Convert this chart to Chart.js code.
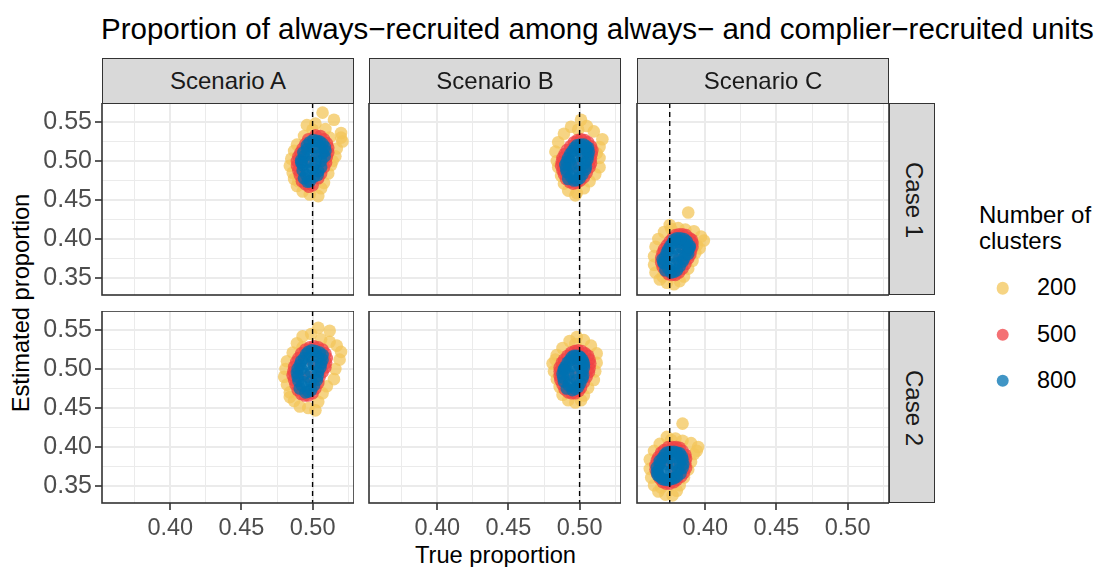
<!DOCTYPE html>
<html>
<head>
<meta charset="utf-8">
<script src="https://cdn.jsdelivr.net/npm/chart.js@4.4.0/dist/chart.umd.min.js"></script>
<style>
  body { margin: 0; background: #fff; }
  #fig { position: relative; width: 1096px; height: 567px; overflow: hidden; font-family: "Liberation Sans", Arial, sans-serif; }
  .panel { position: absolute; }
  .strip { position: absolute; box-sizing: border-box; background: #D9D9D9; border: 1.6px solid #333333; color: #1A1A1A; font-size: 24px; line-height: 1; white-space: nowrap; }
  .strip.top { display: flex; align-items: center; justify-content: center; }
  .strip span.rot { position: absolute; transform: translate(-50%, -50%) rotate(90deg); }
  .txt { position: absolute; line-height: 1; white-space: nowrap; color: #000; }
  .dot { position: absolute; width: 12.6px; height: 12.6px; border-radius: 50%; transform: translate(-50%, -50%); }
</style>
</head>
<body>
<div id="fig">
  <div class="txt" style="left:101px; top:14px; font-size:29.5px;">Proportion of always−recruited among always− and complier−recruited units</div>
  <div class="txt" style="left:495.5px; top:543.5px; font-size:23.7px; transform:translateX(-50%);">True proportion</div>
  <div class="txt" style="left:22px; top:303px; font-size:23.7px; transform:translate(-50%,-50%) rotate(-90deg);">Estimated proportion</div>
  <div class="txt" style="left:979px; top:202px; font-size:24px; line-height:26px;">Number of<br>clusters</div>
</div>

<script>
// facets and groups
const scenarios = ['Scenario A', 'Scenario B', 'Scenario C'];
const cases = ['Case 1', 'Case 2'];
const clusterCounts = ['200', '500', '800'];
const trueProportion = [0.5, 0.5, 0.375];

// axis breaks (majors + minors) and the labels shown at the majors
const xBreaks = [0.375, 0.40, 0.425, 0.45, 0.475, 0.50, 0.525];
const yBreaks = [0.35, 0.375, 0.40, 0.425, 0.45, 0.475, 0.50, 0.525, 0.55];
const xLabels = ['0.40', '0.45', '0.50'];
const yLabels = ['0.35', '0.40', '0.45', '0.50', '0.55'];

// [true, estimated] per simulation run
const scenA_case1_200 = [[0.507,0.562],[0.515,0.553],[0.496,0.546],[0.502,0.548],[0.509,0.541],[0.520,0.536],[0.494,0.532],[0.521,0.525],[0.489,0.521],[0.487,0.513],[0.517,0.516],[0.485,0.503],[0.516,0.506],[0.484,0.494],[0.513,0.495],[0.486,0.485],[0.511,0.484],[0.487,0.477],[0.489,0.468],[0.508,0.472],[0.493,0.461],[0.498,0.457],[0.504,0.455],[0.506,0.465],[0.520,0.530],[0.512,0.530],[0.500,0.540],[0.490,0.474],[0.514,0.500]];
const scenA_case1_500 = [[0.491,0.482],[0.495,0.470],[0.500,0.469],[0.504,0.478],[0.489,0.494],[0.508,0.492],[0.490,0.506],[0.510,0.505],[0.493,0.516],[0.511,0.517],[0.497,0.528],[0.502,0.533],[0.508,0.528],[0.499,0.500],[0.503,0.512],
  [0.4925,0.474],[0.4975,0.467],[0.506,0.484],[0.5095,0.498],[0.511,0.511],[0.510,0.523],[0.5055,0.532],[0.495,0.522],[0.4915,0.511],[0.489,0.500],[0.490,0.488]];
const scenA_case1_800 = [[0.494,0.478],[0.498,0.474],[0.501,0.480],[0.496,0.488],[0.500,0.490],[0.504,0.487],[0.493,0.495],[0.497,0.499],[0.502,0.497],[0.506,0.500],[0.494,0.506],[0.499,0.508],[0.503,0.506],[0.507,0.510],[0.496,0.515],[0.500,0.517],[0.505,0.518],[0.498,0.524],[0.503,0.526],[0.507,0.522],[0.492,0.501],[0.509,0.513],
  [0.5035,0.482],[0.506,0.492],[0.5085,0.506],[0.5085,0.518],[0.505,0.525],[0.5005,0.527],[0.496,0.520],[0.4935,0.511],[0.492,0.498],[0.493,0.488],[0.4955,0.482],[0.4965,0.4735]];

const scenB_case1_200 = [[0.501,0.553],[0.494,0.544],[0.505,0.545],[0.510,0.538],[0.516,0.528],[0.489,0.535],[0.485,0.524],[0.483,0.512],[0.514,0.518],[0.484,0.500],[0.514,0.504],[0.485,0.492],[0.514,0.492],[0.487,0.481],[0.511,0.483],[0.489,0.471],[0.507,0.474],[0.492,0.462],[0.498,0.459],[0.503,0.465],[0.499,0.540],[0.512,0.510],[0.497,0.456]];
const scenB_case1_500 = [[0.489,0.483],[0.493,0.473],[0.498,0.472],[0.503,0.479],[0.487,0.494],[0.507,0.492],[0.488,0.504],[0.508,0.503],[0.491,0.514],[0.509,0.514],[0.496,0.524],[0.501,0.528],[0.506,0.524],[0.499,0.491],[0.501,0.509],
  [0.4905,0.477],[0.4955,0.471],[0.5005,0.475],[0.505,0.485],[0.508,0.497],[0.5085,0.509],[0.508,0.519],[0.5035,0.527],[0.4985,0.527],[0.4935,0.519],[0.4895,0.509],[0.4875,0.499],[0.488,0.488]];
const scenB_case1_800 = [[0.492,0.477],[0.496,0.475],[0.500,0.478],[0.491,0.486],[0.495,0.485],[0.500,0.487],[0.504,0.489],[0.490,0.495],[0.494,0.495],[0.499,0.497],[0.504,0.498],[0.492,0.504],[0.497,0.506],[0.502,0.505],[0.506,0.507],[0.495,0.513],[0.500,0.515],[0.505,0.514],[0.498,0.520],[0.503,0.521],[0.506,0.517],[0.493,0.500],
  [0.498,0.4755],[0.502,0.483],[0.5045,0.493],[0.5055,0.502],[0.5065,0.512],[0.5045,0.519],[0.5005,0.521],[0.4965,0.517],[0.4935,0.509],[0.491,0.499],[0.4905,0.490],[0.494,0.480]];

const scenC_case1_200 = [[0.388,0.434],[0.375,0.418],[0.381,0.414],[0.386,0.412],[0.392,0.410],[0.397,0.403],[0.399,0.398],[0.371,0.409],[0.367,0.400],[0.394,0.392],[0.365,0.390],[0.393,0.382],[0.364,0.378],[0.391,0.372],[0.364,0.367],[0.388,0.362],[0.365,0.357],[0.385,0.352],[0.368,0.348],[0.373,0.344],[0.378,0.342],[0.382,0.346],[0.370,0.352],[0.376,0.413],[0.396,0.388]];
const scenC_case1_500 = [[0.370,0.364],[0.374,0.355],[0.379,0.354],[0.384,0.362],[0.369,0.376],[0.388,0.375],[0.371,0.387],[0.390,0.385],[0.375,0.397],[0.391,0.395],[0.379,0.405],[0.384,0.406],[0.389,0.401],[0.381,0.373],[0.383,0.390],
  [0.372,0.359],[0.3765,0.354],[0.3815,0.357],[0.386,0.368],[0.3895,0.380],[0.391,0.390],[0.3905,0.399],[0.3865,0.405],[0.3815,0.406],[0.377,0.401],[0.373,0.392],[0.370,0.382],[0.369,0.370]];
const scenC_case1_800 = [[0.372,0.360],[0.376,0.357],[0.380,0.360],[0.371,0.369],[0.375,0.368],[0.380,0.369],[0.384,0.371],[0.372,0.378],[0.377,0.378],[0.381,0.379],[0.386,0.380],[0.374,0.387],[0.379,0.388],[0.384,0.388],[0.388,0.386],[0.377,0.395],[0.382,0.396],[0.386,0.394],[0.380,0.401],[0.385,0.400],[0.370,0.374],[0.389,0.391],
  [0.378,0.358],[0.382,0.365],[0.385,0.375],[0.388,0.381],[0.389,0.389],[0.387,0.397],[0.3825,0.401],[0.378,0.399],[0.3755,0.391],[0.373,0.383],[0.3705,0.370],[0.374,0.362]];

const scenA_case2_200 = [[0.504,0.553],[0.512,0.549],[0.493,0.542],[0.499,0.545],[0.506,0.538],[0.517,0.530],[0.489,0.533],[0.520,0.522],[0.486,0.521],[0.482,0.510],[0.519,0.512],[0.481,0.500],[0.516,0.500],[0.480,0.490],[0.515,0.487],[0.482,0.480],[0.510,0.478],[0.484,0.470],[0.487,0.459],[0.507,0.469],[0.491,0.452],[0.497,0.450],[0.502,0.447],[0.504,0.458],[0.512,0.535],[0.493,0.528],[0.484,0.464]];
const scenA_case2_500 = [[0.488,0.480],[0.492,0.468],[0.497,0.466],[0.502,0.475],[0.486,0.492],[0.505,0.490],[0.487,0.503],[0.509,0.502],[0.490,0.514],[0.510,0.514],[0.495,0.525],[0.501,0.529],[0.507,0.525],[0.497,0.490],[0.500,0.510],
  [0.4895,0.473],[0.4945,0.466],[0.500,0.469],[0.504,0.482],[0.507,0.496],[0.5095,0.508],[0.509,0.520],[0.504,0.528],[0.498,0.528],[0.492,0.520],[0.4885,0.509],[0.4865,0.497],[0.487,0.486]];
const scenA_case2_800 = [[0.491,0.475],[0.495,0.470],[0.499,0.473],[0.490,0.485],[0.494,0.483],[0.499,0.484],[0.503,0.486],[0.489,0.495],[0.494,0.494],[0.499,0.496],[0.504,0.497],[0.491,0.505],[0.496,0.506],[0.501,0.505],[0.506,0.507],[0.494,0.514],[0.499,0.516],[0.504,0.515],[0.507,0.518],[0.497,0.522],[0.502,0.523],[0.492,0.500],
  [0.497,0.471],[0.501,0.479],[0.5035,0.491],[0.5055,0.502],[0.507,0.512],[0.505,0.521],[0.4995,0.524],[0.4955,0.519],[0.492,0.510],[0.4895,0.500],[0.4895,0.490],[0.4925,0.479]];

const scenB_case2_200 = [[0.498,0.541],[0.493,0.536],[0.503,0.537],[0.508,0.530],[0.488,0.527],[0.484,0.518],[0.512,0.520],[0.481,0.507],[0.512,0.508],[0.482,0.497],[0.511,0.497],[0.484,0.487],[0.510,0.486],[0.486,0.477],[0.506,0.476],[0.488,0.467],[0.503,0.466],[0.492,0.460],[0.497,0.457],[0.501,0.460],[0.497,0.532],[0.483,0.512]];
const scenB_case2_500 = [[0.488,0.480],[0.492,0.470],[0.497,0.469],[0.501,0.476],[0.486,0.491],[0.505,0.490],[0.486,0.502],[0.507,0.501],[0.489,0.512],[0.507,0.512],[0.494,0.521],[0.499,0.524],[0.504,0.520],[0.496,0.490],[0.499,0.508],
  [0.4895,0.474],[0.4945,0.469],[0.4995,0.472],[0.503,0.483],[0.5065,0.496],[0.5075,0.507],[0.506,0.517],[0.5015,0.523],[0.4965,0.523],[0.4915,0.517],[0.4875,0.508],[0.486,0.497],[0.4865,0.486]];
const scenB_case2_800 = [[0.491,0.475],[0.495,0.473],[0.499,0.477],[0.489,0.484],[0.493,0.484],[0.498,0.486],[0.502,0.488],[0.488,0.494],[0.492,0.494],[0.497,0.496],[0.502,0.497],[0.490,0.503],[0.495,0.504],[0.500,0.504],[0.503,0.506],[0.493,0.511],[0.498,0.513],[0.502,0.512],[0.496,0.517],[0.500,0.516],[0.489,0.500],
  [0.497,0.4745],[0.5005,0.482],[0.5025,0.492],[0.503,0.502],[0.5025,0.509],[0.5005,0.5145],[0.498,0.517],[0.4945,0.515],[0.4915,0.508],[0.489,0.4985],[0.4885,0.489],[0.4925,0.479]];

const scenC_case2_200 = [[0.384,0.430],[0.373,0.413],[0.379,0.411],[0.384,0.408],[0.390,0.405],[0.395,0.400],[0.368,0.404],[0.364,0.395],[0.392,0.391],[0.361,0.384],[0.390,0.381],[0.361,0.372],[0.388,0.371],[0.362,0.361],[0.385,0.361],[0.364,0.351],[0.382,0.351],[0.367,0.343],[0.372,0.339],[0.377,0.338],[0.380,0.344],[0.369,0.348],[0.376,0.409],[0.394,0.395]];
const scenC_case2_500 = [[0.366,0.366],[0.370,0.355],[0.375,0.353],[0.380,0.358],[0.365,0.377],[0.385,0.367],[0.367,0.387],[0.386,0.379],[0.371,0.396],[0.386,0.390],[0.377,0.400],[0.382,0.399],[0.378,0.372],[0.373,0.382],
  [0.368,0.360],[0.3725,0.353],[0.378,0.355],[0.383,0.362],[0.3865,0.373],[0.3865,0.385],[0.384,0.395],[0.3795,0.400],[0.374,0.400],[0.369,0.393],[0.366,0.383],[0.365,0.371]];
const scenC_case2_800 = [[0.368,0.362],[0.372,0.358],[0.376,0.359],[0.380,0.362],[0.367,0.370],[0.371,0.369],[0.376,0.369],[0.381,0.370],[0.384,0.373],[0.368,0.378],[0.373,0.378],[0.378,0.378],[0.382,0.380],[0.370,0.386],[0.375,0.386],[0.380,0.387],[0.384,0.384],[0.373,0.393],[0.378,0.394],[0.382,0.392],[0.366,0.374],
  [0.374,0.3575],[0.378,0.360],[0.3825,0.366],[0.3845,0.378],[0.3835,0.388],[0.380,0.393],[0.3755,0.394],[0.3715,0.390],[0.368,0.382],[0.366,0.368],[0.3665,0.364],[0.370,0.359]];

// rows = cases, columns = scenarios
const panelData = [
  [[scenA_case1_200, scenA_case1_500, scenA_case1_800],
   [scenB_case1_200, scenB_case1_500, scenB_case1_800],
   [scenC_case1_200, scenC_case1_500, scenC_case1_800]],
  [[scenA_case2_200, scenA_case2_500, scenA_case2_800],
   [scenB_case2_200, scenB_case2_500, scenB_case2_800],
   [scenC_case2_200, scenC_case2_500, scenC_case2_800]]
];

const clusterColours = ['rgba(243,197,89,0.75)', 'rgba(240,65,69,0.75)', 'rgba(0,114,178,0.75)'];

const FONT = '"Liberation Sans", Arial, sans-serif';
const X_RANGE = [0.3520, 0.5291];
const Y_RANGE = [0.3282, 0.5744];
const colLeft = [102, 369, 637];
const rowTop = [103, 311];
const PANEL_W = 252, PANEL_H = 192;
const AXIS_W = 70, AXIS_H = 50;

const fig = document.getElementById('fig');

// dashed reference line at the true value, then the panel border
const panelFrame = {
  id: 'panelFrame',
  afterDatasetsDraw(chart, args, opts) {
    const { ctx, chartArea: a } = chart;
    const px = chart.scales.x.getPixelForValue(opts.truth);
    ctx.save();
    ctx.strokeStyle = '#000';
    ctx.lineWidth = 1.4;
    ctx.setLineDash([5, 4]);
    ctx.beginPath();
    ctx.moveTo(px, a.top);
    ctx.lineTo(px, a.bottom);
    ctx.stroke();
    ctx.setLineDash([]);
    ctx.strokeStyle = '#333333';
    ctx.lineWidth = 1.6;
    ctx.strokeRect(a.left, a.top, a.right - a.left, a.bottom - a.top);
    ctx.restore();
  }
};

function axisOptions(axis, range, breaks, labels, showLabels) {
  const isMajor = v => labels.includes(v.toFixed(2));
  return {
    type: 'linear',
    position: axis === 'x' ? 'bottom' : 'left',
    min: range[0],
    max: range[1],
    afterBuildTicks: s => { s.ticks = breaks.map(v => ({ value: v })); },
    afterFit: s => {
      if (axis === 'x') s.height = AXIS_H; else s.width = AXIS_W;
      s.paddingTop = s.paddingBottom = s.paddingLeft = s.paddingRight = 0;
    },
    border: { display: false },
    grid: {
      color: '#EBEBEB',
      lineWidth: c => (c.tick && isMajor(c.tick.value)) ? 2 : 1,
      drawTicks: showLabels,
      tickLength: 7,
      tickWidth: 1.6,
      tickColor: c => (c.tick && isMajor(c.tick.value)) ? '#333333' : 'rgba(0,0,0,0)'
    },
    ticks: {
      display: showLabels,
      autoSkip: false,
      maxRotation: 0,
      padding: axis === 'x' ? 4 : 3,
      color: '#4D4D4D',
      font: { family: FONT, size: axis === 'x' ? 23.5 : 25 },
      callback: v => isMajor(v) ? v.toFixed(2) : ''
    }
  };
}

function makePanel(row, col) {
  const wrap = document.createElement('div');
  wrap.className = 'panel';
  wrap.style.left = (colLeft[col] - AXIS_W) + 'px';
  wrap.style.top = rowTop[row] + 'px';
  const canvas = document.createElement('canvas');
  canvas.width = PANEL_W + AXIS_W;
  canvas.height = PANEL_H + AXIS_H;
  wrap.appendChild(canvas);
  fig.appendChild(wrap);

  new Chart(canvas, {
    type: 'scatter',
    data: {
      datasets: panelData[row][col].map((pts, k) => ({
        label: clusterCounts[k],
        data: pts.map(([x, y]) => ({ x, y })),
        backgroundColor: clusterColours[k],
        borderWidth: 0,
        pointRadius: 6.3,
        pointHoverRadius: 6.3,
        order: 3 - k,
        clip: 0
      }))
    },
    options: {
      responsive: false,
      animation: false,
      events: [],
      layout: { padding: 0, autoPadding: false },
      plugins: {
        legend: { display: false },
        tooltip: { enabled: false },
        panelFrame: { truth: trueProportion[col] }
      },
      scales: {
        x: axisOptions('x', X_RANGE, xBreaks, xLabels, row === 1),
        y: axisOptions('y', Y_RANGE, yBreaks, yLabels, col === 0)
      }
    },
    plugins: [panelFrame]
  });
}

for (let r = 0; r < cases.length; r++) {
  for (let c = 0; c < scenarios.length; c++) makePanel(r, c);
}

// facet strips
scenarios.forEach((name, c) => {
  const s = document.createElement('div');
  s.className = 'strip top';
  Object.assign(s.style, { left: colLeft[c] + 'px', top: '58px', width: PANEL_W + 'px', height: '45.8px' });
  s.textContent = name;
  fig.appendChild(s);
});
cases.forEach((name, r) => {
  const s = document.createElement('div');
  s.className = 'strip';
  Object.assign(s.style, { left: (colLeft[2] + PANEL_W) + 'px', top: rowTop[r] + 'px', width: '46px', height: PANEL_H + 'px' });
  const t = document.createElement('span');
  t.className = 'rot';
  t.style.left = '24px';
  t.style.top = (PANEL_H / 2) + 'px';
  t.textContent = name;
  s.appendChild(t);
  fig.appendChild(s);
});

// legend
clusterCounts.forEach((lab, k) => {
  const cy = 288.3 + k * 46.2;
  const d = document.createElement('div');
  d.className = 'dot';
  Object.assign(d.style, { left: '1002.7px', top: cy + 'px', background: clusterColours[k] });
  fig.appendChild(d);
  const t = document.createElement('div');
  t.className = 'txt';
  Object.assign(t.style, { left: '1037px', top: (cy - 12) + 'px', fontSize: '23.5px' });
  t.textContent = lab;
  fig.appendChild(t);
});
</script>
</body>
</html>
